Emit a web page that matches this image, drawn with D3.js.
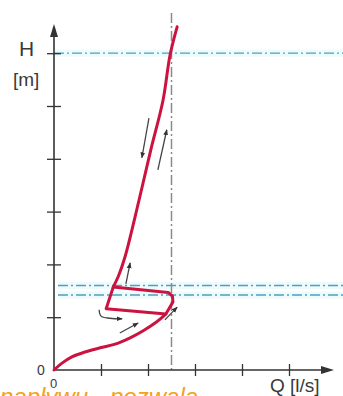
<!DOCTYPE html>
<html>
<head>
<meta charset="utf-8">
<script src="https://cdn.jsdelivr.net/npm/d3@7"></script>
<style>
  body { margin: 0; background: #fff; }
  text { font-family: "Liberation Sans", Arial, sans-serif; fill: #3a3a3a; }
</style>
</head>
<body>
<script>
// axis ticks (Q in l/s, H in m)
var qTicks = [1, 2, 3, 4, 5];
var hTicks = [1, 2, 3, 4, 5, 6];

// horizontal dash-dot levels (H) and vertical dash-dot mark (Q)
var levels = [6.0, 1.6, 1.42];
var qMark = 2.5;

// red characteristic as [Q, H]
var risingBranch = [[0, 0], [0.17, 0.13], [0.38, 0.25], [0.66, 0.34], [0.98, 0.42],
  [1.30, 0.49], [1.62, 0.61], [1.89, 0.74], [2.15, 0.89], [2.38, 1.06]];
var loopBranch = [[2.38, 1.06], [1.11, 1.16], [1.26, 1.57], [2.43, 1.47],
  [2.52, 1.40], [2.53, 1.29], [2.38, 1.06]];
var upperBranch = [[1.26, 1.57], [1.38, 1.8], [1.51, 2.14], [1.81, 3.22],
  [2.06, 4.17], [2.32, 5.11], [2.47, 5.97], [2.62, 6.5]];

// small direction arrows [Q, H] ... head at the last point
var arrows = [
  [[2.02, 4.77], [1.87, 4.02]],
  [[2.21, 3.79], [2.40, 4.55]],
  [[1.53, 1.63], [1.62, 2.03]],
  [[0.96, 1.14], [1.00, 1.02], [1.19, 0.98], [1.45, 0.97]],
  [[1.40, 0.70], [1.79, 0.89]],
  [[2.36, 0.95], [2.62, 1.19]]
];

var W = 343, H = 396;

var x = d3.scaleLinear().domain([0, 6]).range([54, 336]);
var y = d3.scaleLinear().domain([0, 7]).range([370, 0.4]);

var svg = d3.select('body').append('svg')
  .attr('width', W)
  .attr('height', H);

var defs = svg.append('defs');
defs.append('marker')
  .attr('id', 'ah')
  .attr('viewBox', '0 0 10 10')
  .attr('refX', 9).attr('refY', 5)
  .attr('markerWidth', 6).attr('markerHeight', 6)
  .attr('markerUnits', 'userSpaceOnUse')
  .attr('orient', 'auto')
  .append('path')
  .attr('d', 'M0,1 L10,5 L0,9 z')
  .attr('fill', '#333');

// level lines (light glow first, then dash-dot)
svg.selectAll('.glow')
  .data(levels)
  .enter().append('line')
  .attr('x1', function (d) { return d == 6 ? x(0) : 58; })
  .attr('x2', W)
  .attr('y1', function (d) { return y(d); })
  .attr('y2', function (d) { return y(d); })
  .attr('stroke', '#eefbfd')
  .attr('stroke-width', 7);

svg.selectAll('.level')
  .data(levels)
  .enter().append('line')
  .attr('x1', function (d) { return d == 6 ? x(0) : 58; })
  .attr('x2', W)
  .attr('y1', function (d) { return y(d); })
  .attr('y2', function (d) { return y(d); })
  .attr('stroke', '#4f9fbf')
  .attr('stroke-width', 1.3)
  .attr('stroke-dasharray', '10,3,2,3');

// vertical dash-dot
svg.append('line')
  .attr('x1', x(qMark)).attr('x2', x(qMark))
  .attr('y1', 13).attr('y2', y(0))
  .attr('stroke', '#8a8a8a')
  .attr('stroke-width', 1.5)
  .attr('stroke-dasharray', '10,3,2,3');

// axes
svg.append('g')
  .attr('transform', 'translate(' + (x(0) - 7) + ',0)')
  .call(d3.axisRight(y).tickValues(hTicks).tickSize(14).tickFormat(''))
  .call(function (g) { g.select('.domain').remove(); })
  .selectAll('line').attr('stroke', '#333').attr('stroke-width', 1.3);

svg.append('g')
  .attr('transform', 'translate(0,' + (y(0) - 6) + ')')
  .call(d3.axisBottom(x).tickValues(qTicks).tickSize(12).tickFormat(''))
  .call(function (g) { g.select('.domain').remove(); })
  .selectAll('line').attr('stroke', '#333').attr('stroke-width', 1.3);

svg.append('line')
  .attr('x1', x(0)).attr('x2', x(0))
  .attr('y1', y(0)).attr('y2', 34)
  .attr('stroke', '#333').attr('stroke-width', 1.6);
svg.append('path')
  .attr('d', 'M' + x(0) + ',24 L' + (x(0) - 4) + ',37 L' + (x(0) + 4) + ',37 z')
  .attr('fill', '#333');

svg.append('line')
  .attr('x1', x(0)).attr('x2', 324)
  .attr('y1', y(0)).attr('y2', y(0))
  .attr('stroke', '#333').attr('stroke-width', 1.6);
svg.append('path')
  .attr('d', 'M334,' + y(0) + ' L321,' + (y(0) - 4) + ' L321,' + (y(0) + 4) + ' z')
  .attr('fill', '#333');

// red curve
var smooth = d3.line()
  .x(function (d) { return x(d[0]); })
  .y(function (d) { return y(d[1]); })
  .curve(d3.curveCatmullRom);
var straight = d3.line()
  .x(function (d) { return x(d[0]); })
  .y(function (d) { return y(d[1]); });

[[risingBranch, smooth], [loopBranch, straight], [upperBranch, smooth]].forEach(function (p) {
  svg.append('path')
    .attr('d', p[1](p[0]))
    .attr('fill', 'none')
    .attr('stroke', '#cc1340')
    .attr('stroke-width', 3)
    .attr('stroke-linejoin', 'round')
    .attr('stroke-linecap', 'round');
});

// direction arrows
svg.selectAll('.arr')
  .data(arrows)
  .enter().append('path')
  .attr('d', function (d) { return smooth(d); })
  .attr('fill', 'none')
  .attr('stroke', '#444')
  .attr('stroke-width', 1.3)
  .attr('marker-end', 'url(#ah)');

// labels
svg.append('text').attr('x', 19).attr('y', 56).attr('font-size', 21).text('H');
svg.append('text').attr('x', 13).attr('y', 86).attr('font-size', 19).text('[m]');
svg.append('text').attr('x', 37).attr('y', 375).attr('font-size', 14).text('0');
svg.append('text').attr('x', 50).attr('y', 388).attr('font-size', 13).text('0');
svg.append('text').attr('x', 270).attr('y', 392).attr('font-size', 19).text('Q [l/s]');

// cropped caption below the chart
var caption = svg.append('text')
  .attr('y', 405)
  .attr('font-size', 24)
  .attr('font-style', 'italic')
  .style('fill', '#f2a31c');
caption.append('tspan').attr('x', 0).text('napływu');
caption.append('tspan').attr('x', 110).text('pozwala');
</script>
</body>
</html>
